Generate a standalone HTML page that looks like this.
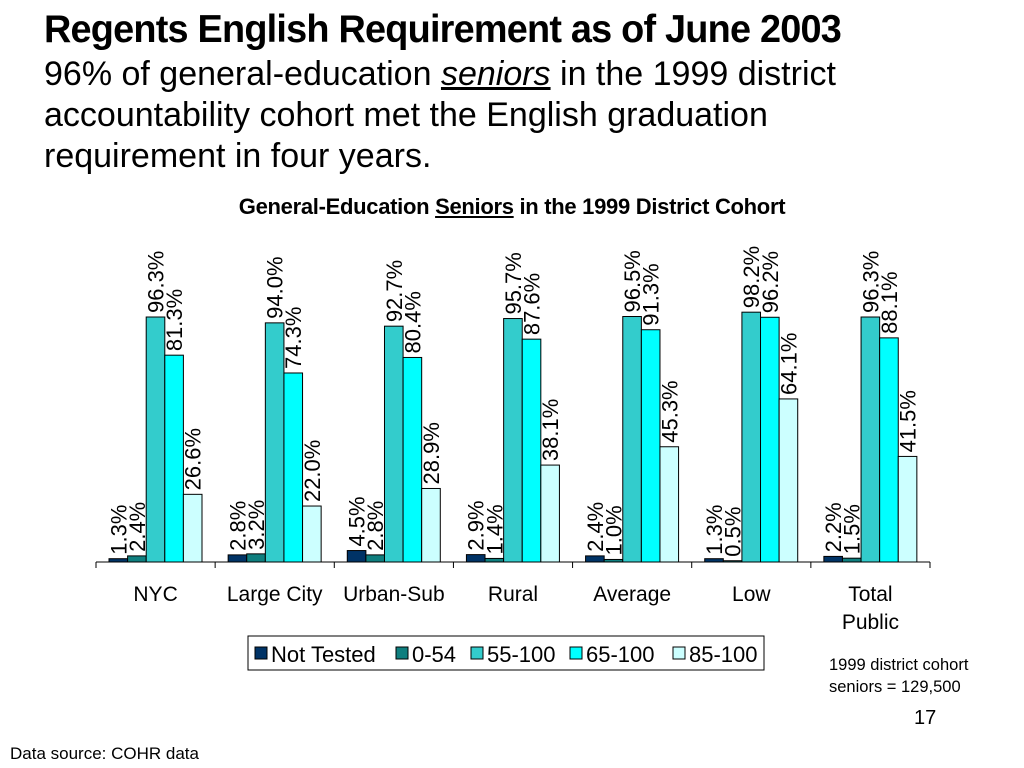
<!DOCTYPE html>
<html><head><meta charset="utf-8"><style>
body{margin:0;width:1024px;height:768px;background:#fff;font-family:"Liberation Sans",sans-serif;position:relative;overflow:hidden}
.t{position:absolute;color:#000}
</style></head><body>
<div class="t" style="left:44px;top:8px;font-size:39px;font-weight:bold;letter-spacing:-0.8px;transform:scaleX(0.97);transform-origin:left">Regents English Requirement as of June 2003</div>
<div class="t" style="left:44px;top:54px;font-size:34px;line-height:41px;width:880px">96% of general-education <i><u>seniors</u></i> in the 1999 district accountability cohort met the English graduation requirement in four years.</div>
<div class="t" style="left:0;width:1024px;text-align:center;top:194px;font-size:22px;font-weight:bold;letter-spacing:-0.3px">General-Education <u>Seniors</u> in the 1999 District Cohort</div>
<svg id="chart" width="1024" height="768" style="position:absolute;left:0;top:0"></svg>
<div class="t" style="left:829px;top:654px;font-size:16.5px;line-height:22px">1999 district cohort<br>seniors = 129,500</div>
<div class="t" style="left:914px;top:707px;font-size:20px">17</div>
<div class="t" style="left:10px;top:744px;font-size:17px">Data source: COHR data</div>
<script>
const categories=["NYC","Large City","Urban-Sub","Rural","Average","Low","Total Public"];
const seriesNames=["Not Tested","0-54","55-100","65-100","85-100"];
const notTested=[1.3,2.8,4.5,2.9,2.4,1.3,2.2];
const s054=[2.4,3.2,2.8,1.4,1.0,0.5,1.5];
const s55100=[96.3,94.0,92.7,95.7,96.5,98.2,96.3];
const s65100=[81.3,74.3,80.4,87.6,91.3,96.2,88.1];
const s85100=[26.6,22.0,28.9,38.1,45.3,64.1,41.5];
const series=[notTested,s054,s55100,s65100,s85100];
const colors=["#003366","#0f7f7f","#33cccc","#00ffff","#ccffff"];
const svg=document.getElementById('chart');
const NS="http://www.w3.org/2000/svg";
const x0=96,x1=930,base=562,pxPer=2.544;
const gw=(x1-x0)/categories.length,bw=18.6,off=13;
const y=v=>base-v*pxPer;
function mk(t,a){const e=document.createElementNS(NS,t);for(const k in a)e.setAttribute(k,a[k]);svg.appendChild(e);return e;}
categories.forEach((c,i)=>{
 series.forEach((s,j)=>{
  const bx=x0+i*gw+off+j*bw;
  const r=mk('rect',{x:bx,y:y(s[i]),width:bw,height:s[i]*pxPer,fill:colors[j],stroke:'#000','stroke-width':1});
  
  
  const cx=bx+bw/2+8, ty=y(s[i])-4;
  const t=mk('text',{x:cx,y:ty,transform:`rotate(-90 ${cx} ${ty})`,'font-size':22,'font-family':'Liberation Sans, sans-serif'});
  t.textContent=s[i].toFixed(1)+'%';
  
  
 });
 const lx=x0+i*gw+gw/2;
 const parts=c==="Total Public"?["Total","Public"]:[c];
 parts.forEach((p,k)=>{
  const t=mk('text',{x:lx,y:601+k*28,'text-anchor':'middle','font-size':21,'font-family':'Liberation Sans, sans-serif'});
  t.textContent=p;
  
  
 });
});
const ax=mk('line',{x1:x0,y1:base,x2:x1,y2:base,stroke:'#000'});


for(let i=0;i<=categories.length;i++){
 const tk=mk('line',{x1:x0+i*gw,y1:base,x2:x0+i*gw,y2:base+6,stroke:'#000'});
 
 
}
const lg=mk('rect',{x:248,y:636,width:516,height:34,fill:'#fff',stroke:'#000'});


const lxs=[255,396,471,570,673];
seriesNames.forEach((n,j)=>{
 const sw=mk('rect',{x:lxs[j],y:647,width:12,height:12,fill:colors[j],stroke:'#000'});
 
 
 const t=mk('text',{x:lxs[j]+16,y:662,'font-size':22,'font-family':'Liberation Sans, sans-serif'});
 t.textContent=n;
 
 
});
</script>
</body></html>
